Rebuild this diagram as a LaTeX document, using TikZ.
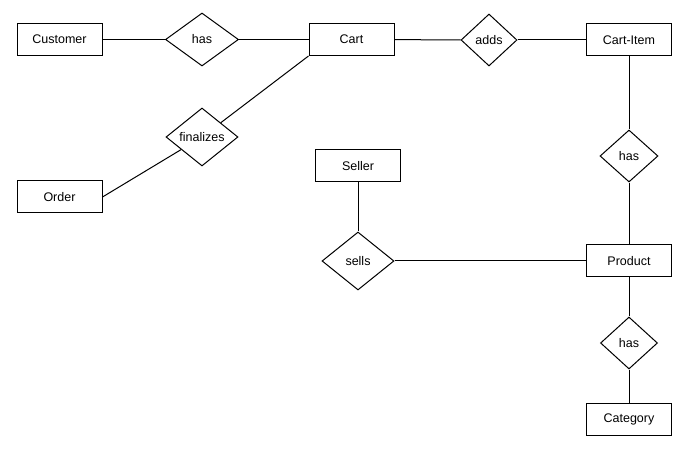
\documentclass[tikz,border=0pt]{standalone}
\usepackage{fontspec}
\setmainfont{Liberation Sans}
\usetikzlibrary{shapes.geometric}

\begin{document}
\begin{tikzpicture}
  [x=1pt,y=-1pt,line width=1pt,font=\fontsize{12.5}{15}\selectfont,
   entity/.style={rectangle,draw,minimum width=85pt,minimum height=32pt,inner sep=0pt},
   rel/.style={diamond,draw,inner sep=0pt}]
  \useasboundingbox (0,0) rectangle (694,465);
  % entities
  \node[entity] (customer) at (59.5,39.5)  {Customer};
  \node[entity] (cart)     at (351.5,39.5) {Cart};
  \node[entity] (item)     at (629,40)     {Cart-Item};
  \node[entity] (order)    at (59.5,197)   {Order};
  \node[entity] (seller)   at (358,166)    {Seller};
  \node[entity] (product)  at (629,261)    {Product};
  \node[entity] (category) at (629,419)    {Category};
  % relationships
  \node[rel,minimum width=73pt,minimum height=53pt] (has1) at (202,39.5) {has};
  \node[rel,minimum width=56pt,minimum height=52pt] (adds) at (489,40)   {adds};
  \node[rel,minimum width=72pt,minimum height=58pt] (fin)  at (202,137)  {finalizes};
  \node[rel,minimum width=72pt,minimum height=58pt] (sells) at (358,261) {sells};
  \node[rel,minimum width=58pt,minimum height=52pt] (has2) at (629,156)  {has};
  \node[rel,minimum width=57pt,minimum height=52pt] (has3) at (629,343)  {has};

  \foreach \from/\to in {customer/has1,has1/cart,cart/adds,adds/item,item/has2,has2/product,
      product/has3,has3/category,seller/sells,sells/product,order.east/fin}
    \draw (\from) -- (\to);
  \draw (cart.south west) -- (fin);
\end{tikzpicture}
\end{document}
